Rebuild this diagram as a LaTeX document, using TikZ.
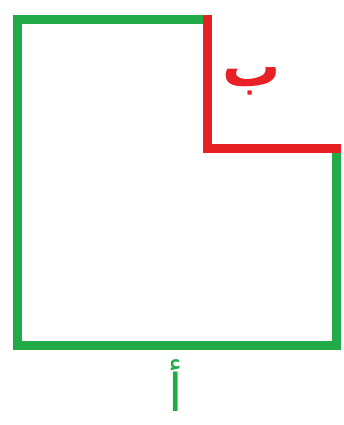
\documentclass[tikz,border=0pt]{standalone}
\usepackage{fontspec}
\newfontfamily\arabicfont[Script=Arabic]{DejaVu Sans}
\TeXXeTstate=1
\definecolor{sgreen}{RGB}{34,170,72}
\definecolor{sred}{RGB}{232,32,38}
\begin{document}
\begin{tikzpicture}[x=1pt,y=-1pt,
  edge/.style={line width=9pt,line join=miter,line cap=butt},
  lbl/.style={inner sep=0pt,text depth=0pt,font=\arabicfont\bfseries\fontsize{58}{60}\selectfont}]
\useasboundingbox (0,0) rectangle (343,425);
\coordinate (tl) at (17,20);
\coordinate (tm) at (207,20);
\coordinate (mm) at (207,148);
\coordinate (mr) at (336,148);
\coordinate (br) at (336,345);
\coordinate (bl) at (17,345);
\draw[edge,sgreen] (mr) -- (br) -- (bl) -- (tl) -- (tm);
\draw[edge,sred] ([yshift=4.5pt]tm) -- (mm) -- ([xshift=4.5pt]mr);
\node[lbl,text=sred] (b) at (252,77) {\beginR ب\endR};
\node[lbl,text=sgreen,font=\arabicfont\fontsize{52}{56}\selectfont] (a) at (176,386) {\beginR أ\endR};
\end{tikzpicture}
\end{document}
